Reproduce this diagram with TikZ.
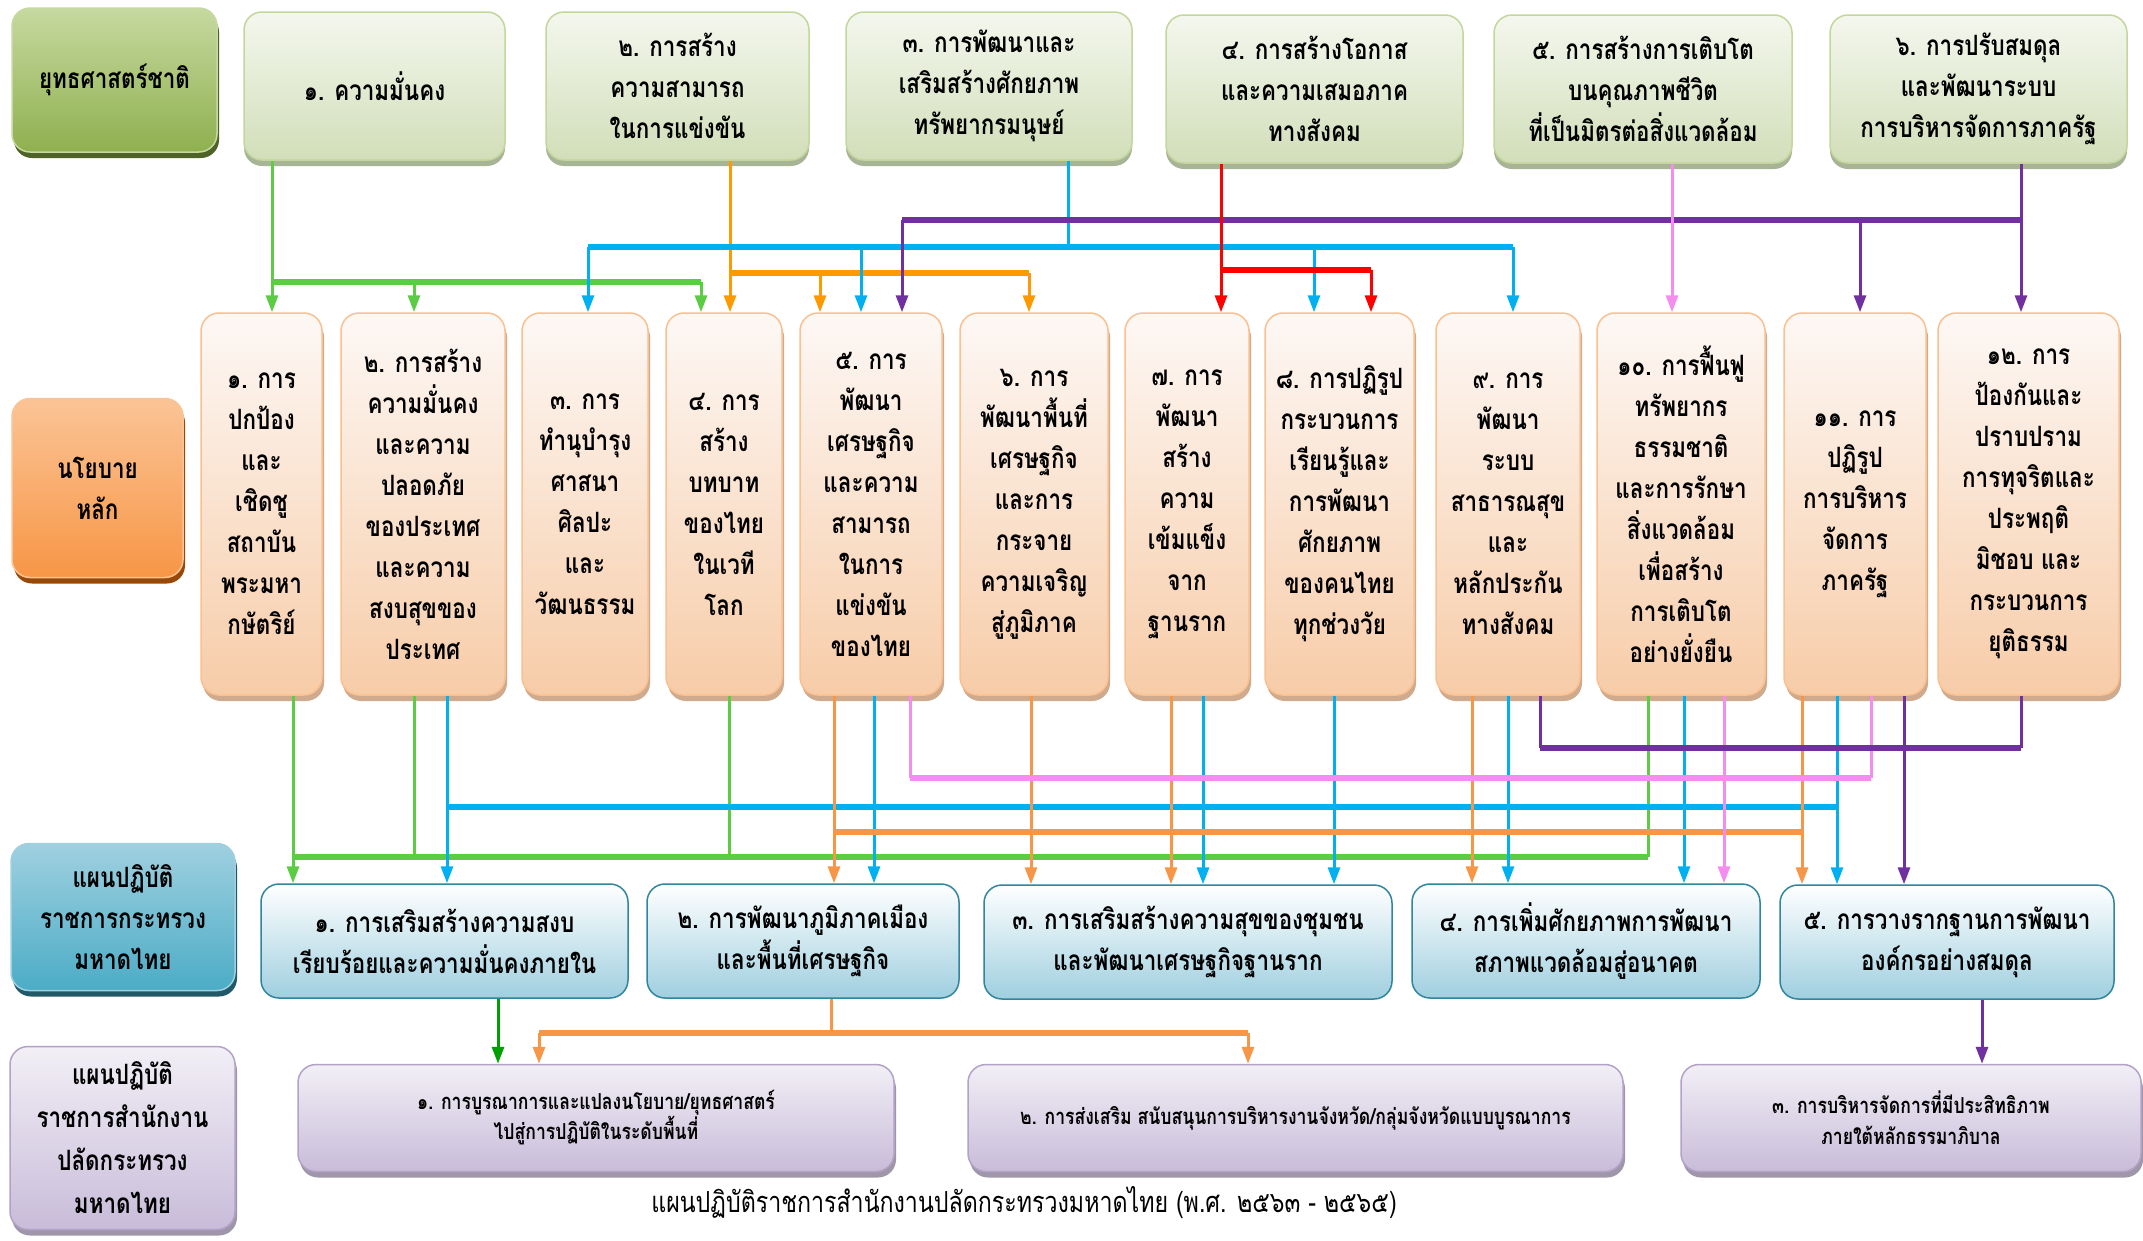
\documentclass[tikz,border=0pt]{standalone}
\usepackage{fontspec}
\setmainfont{Loma}[Script=Thai,FakeStretch=0.8]
\usetikzlibrary{arrows.meta,shadows}

\definecolor{topface}{RGB}{244,247,238}
\definecolor{topfoot}{RGB}{210,222,185}
\definecolor{topedge}{RGB}{195,214,155}
\definecolor{topshade}{RGB}{168,180,150}
\definecolor{natface}{RGB}{198,217,160}
\definecolor{natfoot}{RGB}{143,176,79}
\definecolor{natshade}{RGB}{79,98,40}
\definecolor{midface}{RGB}{253,248,245}
\definecolor{midfoot}{RGB}{247,204,168}
\definecolor{midedge}{RGB}{250,192,144}
\definecolor{midshade}{RGB}{208,170,140}
\definecolor{polface}{RGB}{251,196,150}
\definecolor{polfoot}{RGB}{247,150,70}
\definecolor{polshade}{RGB}{152,72,7}
\definecolor{lowfoot}{RGB}{159,207,223}
\definecolor{lowedge}{RGB}{49,133,156}
\definecolor{moiface}{RGB}{159,208,224}
\definecolor{moifoot}{RGB}{75,172,198}
\definecolor{moishade}{RGB}{33,89,104}
\definecolor{botface}{RGB}{242,239,246}
\definecolor{botfoot}{RGB}{200,188,217}
\definecolor{botedge}{RGB}{179,162,199}
\definecolor{botshade}{RGB}{160,150,170}
\definecolor{lgreen}{RGB}{92,204,68}
\definecolor{dgreen}{RGB}{0,160,0}
\definecolor{orangeA}{RGB}{255,153,0}
\definecolor{orangeB}{RGB}{247,150,70}
\definecolor{lblue}{RGB}{0,176,240}
\definecolor{purp}{RGB}{112,48,160}
\definecolor{lred}{RGB}{255,0,0}
\definecolor{lpink}{RGB}{245,140,240}

\tikzset{
  box/.style={rounded corners=18pt, line width=1.5pt, align=center, inner sep=0pt,
    font=\bfseries\fontsize{28}{41}\selectfont},
  topbox/.style={box, draw=topedge, top color=topface, bottom color=topfoot,
    minimum height=148pt,
    drop shadow={shadow xshift=0pt, shadow yshift=-6pt, fill=topshade, opacity=1}},
  natbox/.style={box, draw=natface, top color=natface, bottom color=natfoot,
    drop shadow={shadow xshift=2pt, shadow yshift=-6pt, fill=natshade, opacity=1}},
  midbox/.style={box, draw=midedge, top color=midface, bottom color=midfoot,
    minimum height=382pt,
    drop shadow={shadow xshift=2pt, shadow yshift=-6pt, fill=midshade, opacity=1}},
  polbox/.style={box, draw=polface, top color=polface, bottom color=polfoot,
    drop shadow={shadow xshift=2pt, shadow yshift=-6pt, fill=polshade, opacity=1}},
  lowbox/.style={box, draw=lowedge, top color=white, bottom color=lowfoot,
    minimum height=114pt},
  moibox/.style={box, draw=moiface, top color=moiface, bottom color=moifoot,
    drop shadow={shadow xshift=2pt, shadow yshift=-6pt, fill=moishade, opacity=1}},
  botbox/.style={box, draw=botedge, top color=botface, bottom color=botfoot,
    minimum height=107pt, font=\bfseries\fontsize{22}{25}\selectfont,
    drop shadow={shadow xshift=2pt, shadow yshift=-6pt, fill=botshade, opacity=1}},
  opsbox/.style={botbox, font=\bfseries\fontsize{28}{43}\selectfont},
  wire/.style={line width=3pt},
  bus/.style={line width=5.5pt},
  tip/.style={-{Triangle[length=17pt,width=12pt]}},
  gline/.style={wire, draw=lgreen},
  dline/.style={wire, draw=dgreen},
  oline/.style={wire, draw=orangeA},
  qline/.style={wire, draw=orangeB},
  bline/.style={wire, draw=lblue},
  uline/.style={wire, draw=purp},
  rline/.style={wire, draw=lred},
  pline/.style={wire, draw=lpink}
}

\begin{document}
\begin{tikzpicture}[x=1pt,y=-1pt]
\useasboundingbox[fill=white] (0,0) rectangle (2143,1240);

%ยุทธศาสตร์ชาติ
\node[natbox, minimum width=205pt, minimum height=144pt] (nat) at (114.5,80) {ยุทธศาสตร์ชาติ};
\node[topbox, minimum width=261pt] (s1) at (374.5,86) {๑. ความมั่นคง};
\node[topbox, minimum width=263pt] (s2) at (677.5,86) {๒. การสร้าง\\ความสามารถ\\ในการแข่งขัน};
\node[topbox, minimum width=286pt] (s3) at (989,86) {๓. การพัฒนาและ\\เสริมสร้างศักยภาพ\\ทรัพยากรมนุษย์};
\node[topbox, minimum width=297pt] (s4) at (1314.5,89) {๔. การสร้างโอกาส\\และความเสมอภาค\\ทางสังคม};
\node[topbox, minimum width=298pt] (s5) at (1643,89) {๕. การสร้างการเติบโต\\บนคุณภาพชีวิต\\ที่เป็นมิตรต่อสิ่งแวดล้อม};
\node[topbox, minimum width=297pt] (s6) at (1978.5,89) {๖. การปรับสมดุล\\และพัฒนาระบบ\\การบริหารจัดการภาครัฐ};

%นโยบายหลัก
\node[polbox, minimum width=171pt, minimum height=179pt] (pol) at (97.5,488) {นโยบาย\\หลัก};
\node[midbox, minimum width=121pt] (p1) at (261.5,504) {๑. การ\\ปกป้อง\\และ\\เชิดชู\\สถาบัน\\พระมหา\\กษัตริย์};
\node[midbox, minimum width=164pt] (p2) at (423,504) {๒. การสร้าง\\ความมั่นคง\\และความ\\ปลอดภัย\\ของประเทศ\\และความ\\สงบสุขของ\\ประเทศ};
\node[midbox, minimum width=126pt] (p3) at (585,504) {๓. การ\\ทำนุบำรุง\\ศาสนา\\ศิลปะ\\และ\\วัฒนธรรม};
\node[midbox, minimum width=116pt] (p4) at (724,504) {๔. การ\\สร้าง\\บทบาท\\ของไทย\\ในเวที\\โลก};
\node[midbox, minimum width=142pt] (p5) at (871,504) {๕. การ\\พัฒนา\\เศรษฐกิจ\\และความ\\สามารถ\\ในการ\\แข่งขัน\\ของไทย};
\node[midbox, minimum width=148pt] (p6) at (1034,504) {๖. การ\\พัฒนาพื้นที่\\เศรษฐกิจ\\และการ\\กระจาย\\ความเจริญ\\สู่ภูมิภาค};
\node[midbox, minimum width=124pt] (p7) at (1187,504) {๗. การ\\พัฒนา\\สร้าง\\ความ\\เข้มแข็ง\\จาก\\ฐานราก};
\node[midbox, minimum width=149pt] (p8) at (1339.5,504) {๘. การปฏิรูป\\กระบวนการ\\เรียนรู้และ\\การพัฒนา\\ศักยภาพ\\ของคนไทย\\ทุกช่วงวัย};
\node[midbox, minimum width=144pt] (p9) at (1508,504) {๙. การ\\พัฒนา\\ระบบ\\สาธารณสุข\\และ\\หลักประกัน\\ทางสังคม};
\node[midbox, minimum width=168pt] (p10) at (1681,504) {๑๐. การฟื้นฟู\\ทรัพยากร\\ธรรมชาติ\\และการรักษา\\สิ่งแวดล้อม\\เพื่อสร้าง\\การเติบโต\\อย่างยั่งยืน};
\node[midbox, minimum width=142pt] (p11) at (1855,504) {๑๑. การ\\ปฏิรูป\\การบริหาร\\จัดการ\\ภาครัฐ};
\node[midbox, minimum width=181pt] (p12) at (2028.5,504) {๑๒. การ\\ป้องกันและ\\ปราบปราม\\การทุจริตและ\\ประพฤติ\\มิชอบ และ\\กระบวนการ\\ยุติธรรม};

%แผนกระทรวง
\node[moibox, minimum width=224pt, minimum height=147pt] (moi) at (123,917) {แผนปฏิบัติ\\ราชการกระทรวง\\มหาดไทย};
\node[lowbox, minimum width=367pt] (l1) at (444.5,941) {๑. การเสริมสร้างความสงบ\\เรียบร้อยและความมั่นคงภายใน};
\node[lowbox, minimum width=312pt] (l2) at (803,941) {๒. การพัฒนาภูมิภาคเมือง\\และพื้นที่เศรษฐกิจ};
\node[lowbox, minimum width=408pt] (l3) at (1188,942) {๓. การเสริมสร้างความสุขของชุมชน\\และพัฒนาเศรษฐกิจฐานราก};
\node[lowbox, minimum width=348pt] (l4) at (1586,941) {๔. การเพิ่มศักยภาพการพัฒนา\\สภาพแวดล้อมสู่อนาคต};
\node[lowbox, minimum width=334pt] (l5) at (1947,942) {๕. การวางรากฐานการพัฒนา\\องค์กรอย่างสมดุล};

%แผนสำนักงานปลัด
\node[opsbox, minimum width=225pt, minimum height=183pt] (ops) at (122.5,1138) {แผนปฏิบัติ\\ราชการสำนักงาน\\ปลัดกระทรวง\\มหาดไทย};
\node[botbox, minimum width=596pt] (b1) at (596,1118) {๑. การบูรณาการและแปลงนโยบาย/ยุทธศาสตร์\\ไปสู่การปฏิบัติในระดับพื้นที่};
\node[botbox, minimum width=655pt] (b2) at (1295.5,1118) {๒. การส่งเสริม สนับสนุนการบริหารงานจังหวัด/กลุ่มจังหวัดแบบบูรณาการ};
\node[botbox, minimum width=460pt, font=\bfseries\fontsize{22}{31}\selectfont] (b3) at (1911,1118) {๓. การบริหารจัดการที่มีประสิทธิภาพ\\ภายใต้หลักธรรมาภิบาล};
\node[font=\fontsize{29}{32}\selectfont] (cap) at (1024,1203) {แผนปฏิบัติราชการสำนักงานปลัดกระทรวงมหาดไทย (พ.ศ. ๒๕๖๓ - ๒๕๖๕)};

%ยุทธศาสตร์ -> นโยบาย
\coordinate (gt) at (272,282);
\draw[gline,tip] (s1.south -| gt) -- (p1.north -| gt);
\draw[gline,bus] (gt) -- (gt -| 701,0);
\draw[gline,tip] (gt -| 414,0) -- (p2.north -| 414,0);
\draw[gline,tip] (gt -| 701,0) -- (p4.north -| 701,0);

\coordinate (ot) at (730,273);
\draw[oline,tip] (s2.south -| ot) -- (p4.north -| ot);
\draw[oline,bus] (ot) -- (ot -| 1029,0);
\draw[oline,tip] (ot -| 820,0) -- (p5.north -| 820,0);
\draw[oline,tip] (ot -| 1029,0) -- (p6.north -| 1029,0);

\coordinate (bt) at (1068,247);
\draw[bline] (s3.south -| bt) -- (bt);
\draw[bline,bus] (bt -| 588,0) -- (bt -| 1513,0);
\draw[bline,tip] (bt -| 588,0) -- (p3.north -| 588,0);
\draw[bline,tip] (bt -| 861,0) -- (p5.north -| 861,0);
\draw[bline,tip] (bt -| 1314,0) -- (p8.north -| 1314,0);
\draw[bline,tip] (bt -| 1513,0) -- (p9.north -| 1513,0);

\coordinate (ut) at (2021,220);
\draw[uline,tip] (s6.south -| ut) -- (p12.north -| ut);
\draw[uline,bus] (ut -| 902,0) -- (ut);
\draw[uline,tip] (ut -| 902,0) -- (p5.north -| 902,0);
\draw[uline,tip] (ut -| 1860,0) -- (p11.north -| 1860,0);

\coordinate (rt) at (1221,270);
\draw[rline,tip] (s4.south -| rt) -- (p7.north -| rt);
\draw[rline,bus] (rt) -- (rt -| 1371,0);
\draw[rline,tip] (rt -| 1371,0) -- (p8.north -| 1371,0);

\draw[pline,tip] (s5.south -| 1672,0) -- (p10.north -| 1672,0);

%นโยบาย -> แผนกระทรวง
\coordinate (gb) at (293,857);
\draw[gline,tip] (p1.south -| gb) -- (l1.north -| gb);
\draw[gline,bus] (gb) -- (gb -| 1648,0);
\draw[gline] (p2.south -| 414,0) -- (gb -| 414,0);
\draw[gline] (p4.south -| 729,0) -- (gb -| 729,0);
\draw[gline] (p10.south -| 1648,0) -- (gb -| 1648,0);

\coordinate (bb) at (447,807);
\draw[bline,tip] (p2.south -| bb) -- (l1.north -| bb);
\draw[bline,bus] (bb) -- (bb -| 1837,0);
\draw[bline,tip] (p5.south -| 874,0) -- (l2.north -| 874,0);
\draw[bline,tip] (p7.south -| 1203,0) -- (l3.north -| 1203,0);
\draw[bline,tip] (p8.south -| 1334,0) -- (l3.north -| 1334,0);
\draw[bline,tip] (p9.south -| 1508,0) -- (l4.north -| 1508,0);
\draw[bline,tip] (p10.south -| 1684,0) -- (l4.north -| 1684,0);
\draw[bline,tip] (p11.south -| 1837,0) -- (l5.north -| 1837,0);

\coordinate (ob) at (834,832);
\draw[qline,tip] (p5.south -| ob) -- (l2.north -| ob);
\draw[qline,bus] (ob) -- (ob -| 1802,0);
\draw[qline,tip] (p6.south -| 1031,0) -- (l3.north -| 1031,0);
\draw[qline,tip] (p7.south -| 1171,0) -- (l3.north -| 1171,0);
\draw[qline,tip] (p9.south -| 1472,0) -- (l4.north -| 1472,0);
\draw[qline,tip] (p11.south -| 1802,0) -- (l5.north -| 1802,0);

\coordinate (pb) at (910,778);
\draw[pline] (p5.south -| pb) -- (pb);
\draw[pline,bus] (pb) -- (pb -| 1871,0);
\draw[pline] (p11.south -| 1871,0) -- (pb -| 1871,0);
\draw[pline,tip] (p10.south -| 1724,0) -- (l4.north -| 1724,0);

\coordinate (ub) at (1540,748);
\draw[uline] (p9.south -| ub) -- (ub);
\draw[uline,bus] (ub) -- (ub -| 2021,0);
\draw[uline] (p12.south -| 2021,0) -- (ub -| 2021,0);
\draw[uline,tip] (p11.south -| 1904,0) -- (l5.north -| 1904,0);

%แผนกระทรวง -> แผนสำนักงานปลัด
\draw[dline,tip] (l1.south -| 498,0) -- (b1.north -| 498,0);
\coordinate (qb) at (831,1033);
\draw[qline] (l2.south -| qb) -- (qb);
\draw[qline,bus] (qb -| 539,0) -- (qb -| 1248,0);
\draw[qline,tip] (qb -| 539,0) -- (b1.north -| 539,0);
\draw[qline,tip] (qb -| 1248,0) -- (b2.north -| 1248,0);
\draw[uline,tip] (l5.south -| 1982,0) -- (b3.north -| 1982,0);
\end{tikzpicture}
\end{document}
